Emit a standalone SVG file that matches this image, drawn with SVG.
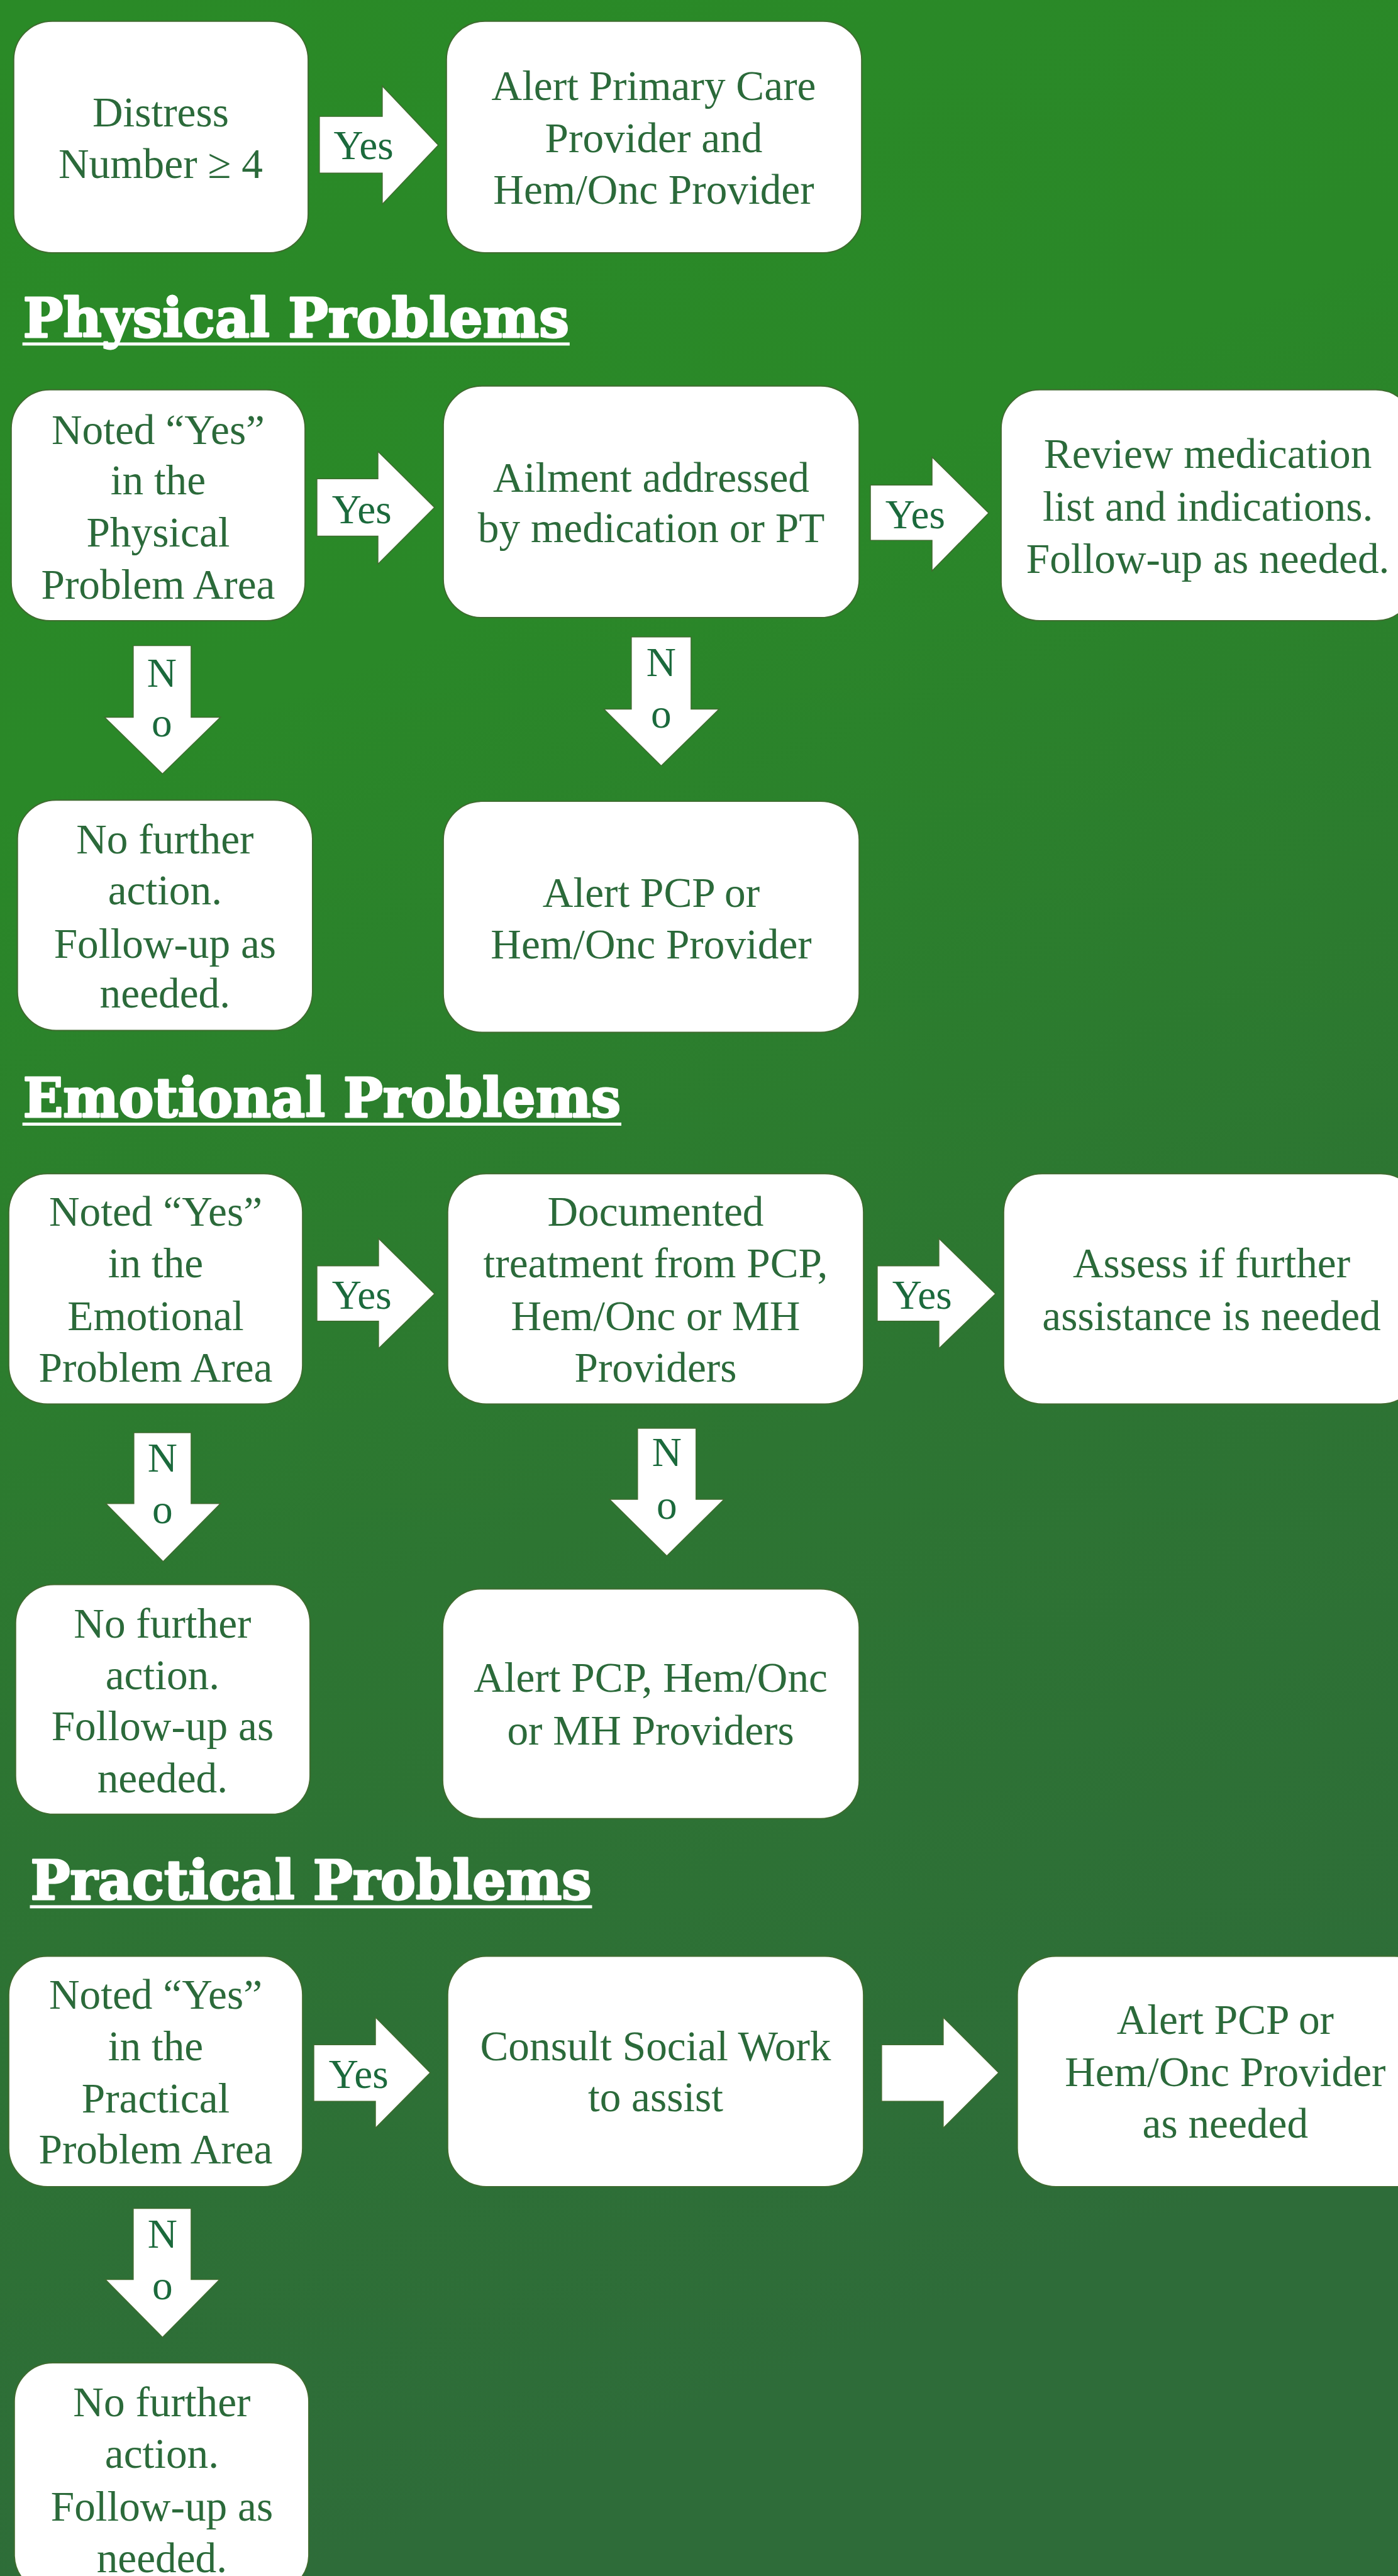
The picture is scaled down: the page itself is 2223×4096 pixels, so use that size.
<svg xmlns="http://www.w3.org/2000/svg" width="2223" height="4096" viewBox="0 0 2223 4096">
<defs>
<linearGradient id="bg" x1="0" y1="0" x2="0.22" y2="1">
<stop offset="0" stop-color="#2a8a27"/>
<stop offset="0.3" stop-color="#2a8828"/>
<stop offset="0.65" stop-color="#2d7532"/>
<stop offset="1" stop-color="#2e6c39"/>
</linearGradient>
<style>
.box{fill:#ffffff;stroke:#3f6b2f;stroke-width:2}
.arr{fill:#ffffff;stroke:#3f6b2f;stroke-width:1.5}
.t{font-family:"Liberation Serif","Times New Roman",serif;font-size:68px;fill:#2b6a3a;text-anchor:middle}
.lbl{font-family:"Liberation Serif","Times New Roman",serif;font-size:66px;fill:#1b6a3c}
.lc{text-anchor:middle}
.h{font-family:"DejaVu Serif","Liberation Serif",serif;font-weight:bold;font-size:86px;fill:#ffffff;stroke:#ffffff;stroke-width:3;stroke-linejoin:round}
</style>
</defs>
<rect x="0" y="0" width="2223" height="4096" fill="url(#bg)"/>
<g transform="scale(0.99)">

<g id="headings">
<text class="h" x="37" y="541" textLength="877" lengthAdjust="spacingAndGlyphs">Physical Problems</text>
<rect x="36" y="550" width="879" height="5" fill="#ffffff"/>
<text class="h" x="37" y="1794" textLength="960" lengthAdjust="spacingAndGlyphs">Emotional Problems</text>
<rect x="36" y="1803" width="962" height="5" fill="#ffffff"/>
<text class="h" x="49" y="3051" textLength="901" lengthAdjust="spacingAndGlyphs">Practical Problems</text>
<rect x="48" y="3060" width="903" height="5" fill="#ffffff"/>
</g>

<g id="connectors">
<polygon class="arr" points="513,187 614,187 614,138 704,233 614,328 614,278 513,278"/>
<text class="lbl" x="536" y="256">Yes</text>

<polygon class="arr" points="509,769 607,769 607,725 698,815 607,906 607,861 509,861"/>
<text class="lbl" x="533" y="840">Yes</text>
<polygon class="arr" points="1398,779 1497,779 1497,734 1588,824 1497,917 1497,868 1398,868"/>
<text class="lbl" x="1422" y="849">Yes</text>
<polygon class="arr" points="214,1037 307,1037 307,1152 354,1152 261,1243 168,1152 214,1152"/>
<text class="lbl lc" x="260" y="1103">N</text>
<text class="lbl lc" x="260" y="1183">o</text>
<polygon class="arr" points="1014,1023 1110,1023 1110,1139 1155,1139 1062,1230 970,1139 1014,1139"/>
<text class="lbl lc" x="1062" y="1086">N</text>
<text class="lbl lc" x="1062" y="1169">o</text>

<polygon class="arr" points="509,2033 608,2033 608,1989 698,2078 608,2166 608,2122 509,2122"/>
<text class="lbl" x="533" y="2102">Yes</text>
<polygon class="arr" points="1409,2033 1508,2033 1508,1989 1599,2078 1508,2166 1508,2122 1409,2122"/>
<text class="lbl" x="1433" y="2102">Yes</text>
<polygon class="arr" points="215,2301 307,2301 307,2415 354,2415 262,2508 170,2415 215,2415"/>
<text class="lbl lc" x="261" y="2364">N</text>
<text class="lbl lc" x="261" y="2446">o</text>
<polygon class="arr" points="1024,2294 1118,2294 1118,2408 1163,2408 1071,2499 979,2408 1024,2408"/>
<text class="lbl lc" x="1071" y="2355">N</text>
<text class="lbl lc" x="1071" y="2439">o</text>

<polygon class="arr" points="504,3284 603,3284 603,3240 691,3329 603,3418 603,3375 504,3375"/>
<text class="lbl" x="528" y="3354">Yes</text>
<polygon class="arr" points="1416,3284 1515,3284 1515,3240 1604,3329 1515,3418 1515,3375 1416,3375"/>
<polygon class="arr" points="214,3547 307,3547 307,3661 353,3661 261,3754 169,3661 214,3661"/>
<text class="lbl lc" x="261" y="3610">N</text>
<text class="lbl lc" x="261" y="3693">o</text>
</g>

<g id="distress">
<rect class="box" x="22" y="34" width="473" height="372" rx="62"/>
<text class="t" x="258" y="203">Distress</text>
<text class="t" x="258" y="286">Number ≥ 4</text>
</g>
<g id="alert-primary">
<rect class="box" x="717" y="34" width="667" height="372" rx="62"/>
<text class="t" x="1050" y="161">Alert Primary Care</text>
<text class="t" x="1050" y="244">Provider and</text>
<text class="t" x="1050" y="327">Hem/Onc Provider</text>
</g>

<g id="phys-noted">
<rect class="box" x="18" y="626" width="472" height="371" rx="62"/>
<text class="t" x="254" y="713">Noted “Yes”</text>
<text class="t" x="254" y="794">in the</text>
<text class="t" x="254" y="878">Physical</text>
<text class="t" x="254" y="962">Problem Area</text>
</g>
<g id="phys-ailment">
<rect class="box" x="712" y="620" width="668" height="372" rx="62"/>
<text class="t" x="1046" y="790">Ailment addressed</text>
<text class="t" x="1046" y="871">by medication or PT</text>
</g>
<g id="phys-review">
<rect class="box" x="1608" y="626" width="664" height="371" rx="62"/>
<text class="t" x="1940" y="752">Review medication</text>
<text class="t" x="1940" y="836">list and indications.</text>
<text class="t" x="1940" y="920">Follow-up as needed.</text>
</g>
<g id="phys-nofurther">
<rect class="box" x="28" y="1285" width="474" height="370" rx="62"/>
<text class="t" x="265" y="1371">No further</text>
<text class="t" x="265" y="1453">action.</text>
<text class="t" x="265" y="1538">Follow-up as</text>
<text class="t" x="265" y="1618">needed.</text>
</g>
<g id="phys-alert">
<rect class="box" x="712" y="1287" width="668" height="371" rx="62"/>
<text class="t" x="1046" y="1457">Alert PCP or</text>
<text class="t" x="1046" y="1539">Hem/Onc Provider</text>
</g>

<g id="emo-noted">
<rect class="box" x="14" y="1885" width="472" height="370" rx="62"/>
<text class="t" x="250" y="1969">Noted “Yes”</text>
<text class="t" x="250" y="2052">in the</text>
<text class="t" x="250" y="2136">Emotional</text>
<text class="t" x="250" y="2219">Problem Area</text>
</g>
<g id="emo-documented">
<rect class="box" x="719" y="1885" width="668" height="370" rx="62"/>
<text class="t" x="1053" y="1969">Documented</text>
<text class="t" x="1053" y="2052">treatment from PCP,</text>
<text class="t" x="1053" y="2136">Hem/Onc or MH</text>
<text class="t" x="1053" y="2219">Providers</text>
</g>
<g id="emo-assess">
<rect class="box" x="1612" y="1885" width="668" height="370" rx="62"/>
<text class="t" x="1946" y="2052">Assess if further</text>
<text class="t" x="1946" y="2136">assistance is needed</text>
</g>
<g id="emo-nofurther">
<rect class="box" x="25" y="2545" width="473" height="369" rx="62"/>
<text class="t" x="261" y="2630">No further</text>
<text class="t" x="261" y="2713">action.</text>
<text class="t" x="261" y="2795">Follow-up as</text>
<text class="t" x="261" y="2879">needed.</text>
</g>
<g id="emo-alert">
<rect class="box" x="711" y="2552" width="669" height="369" rx="62"/>
<text class="t" x="1045" y="2717">Alert PCP, Hem/Onc</text>
<text class="t" x="1045" y="2802">or MH Providers</text>
</g>

<g id="prac-noted">
<rect class="box" x="14" y="3142" width="472" height="370" rx="62"/>
<text class="t" x="250" y="3226">Noted “Yes”</text>
<text class="t" x="250" y="3309">in the</text>
<text class="t" x="250" y="3393">Practical</text>
<text class="t" x="250" y="3475">Problem Area</text>
</g>
<g id="prac-consult">
<rect class="box" x="719" y="3142" width="668" height="370" rx="62"/>
<text class="t" x="1053" y="3309">Consult Social Work</text>
<text class="t" x="1053" y="3391">to assist</text>
</g>
<g id="prac-alert">
<rect class="box" x="1634" y="3142" width="668" height="370" rx="62"/>
<text class="t" x="1968" y="3267">Alert PCP or</text>
<text class="t" x="1968" y="3351">Hem/Onc Provider</text>
<text class="t" x="1968" y="3433">as needed</text>
</g>
<g id="prac-nofurther">
<rect class="box" x="23" y="3795" width="473" height="370" rx="62"/>
<text class="t" x="260" y="3881">No further</text>
<text class="t" x="260" y="3964">action.</text>
<text class="t" x="260" y="4048">Follow-up as</text>
<text class="t" x="260" y="4131">needed.</text>
</g>

</g>
</svg>
